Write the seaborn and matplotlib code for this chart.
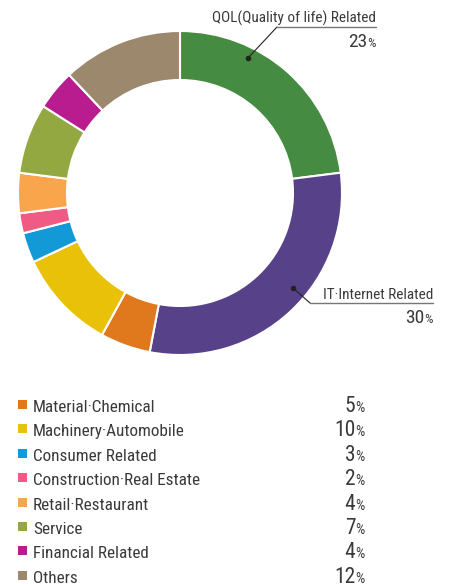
import matplotlib
matplotlib.use('Agg')
import matplotlib.pyplot as plt
import seaborn as sns

# data, clockwise from 12 o'clock
sectors = ['QOL(Quality of life) Related', 'IT·Internet Related', 'Material·Chemical',
           'Machinery·Automobile', 'Consumer Related', 'Construction·Real Estate',
           'Retail·Restaurant', 'Service', 'Financial Related', 'Others']
shares = [23, 30, 5, 10, 3, 2, 4, 7, 4, 12]
colors = ['#458B41', '#574188', '#E0781E', '#E9C108', '#1399D6', '#EF5B84',
          '#F9A54B', '#93A840', '#B91C8E', '#9C886C']

W, H = 449, 584
sns.set_theme(style='white')
plt.rcParams['font.family'] = ['Roboto Condensed', 'Open Sans Condensed', 'DejaVu Sans']
TXT = '#3a3a3a'

fig = plt.figure(figsize=(W / 100, H / 100), dpi=100)
renderer = fig.canvas.get_renderer()


def px(x, y):
    # pixel coords (top-left origin) -> figure fraction
    return x / W, 1 - y / H


def pct(x, y, val, size, va='center'):
    # number followed by a smaller % sign, right edge at x
    t = fig.text(*px(x, y), '%', ha='right', va=va, fontsize=size * 0.68, color=TXT)
    w = t.get_window_extent(renderer).width
    fig.text(*px(x - w - 0.5, y), str(val), ha='right', va=va, fontsize=size, color=TXT)


# donut: centre (180, 193), outer radius 162 px
cx, cy, r = 180, 193, 162
ax = fig.add_axes([(cx - r) / W, 1 - (cy + r) / H, 2 * r / W, 2 * r / H])
ax.pie(shares, colors=colors, startangle=90, counterclock=False, radius=1,
       wedgeprops=dict(width=1 - 113 / 162, edgecolor='white', linewidth=1.5))
ax.set_xlim(-1, 1)
ax.set_ylim(-1, 1)
ax.set_aspect('equal')
ax.axis('off')


def callout(name, val, dot, elbow, end):
    fig.lines.append(plt.Line2D([px(*dot)[0], px(*elbow)[0]], [px(*dot)[1], px(*elbow)[1]],
                                transform=fig.transFigure, color='#222222', lw=0.8))
    fig.lines.append(plt.Line2D([px(*elbow)[0], px(*end)[0]], [px(*elbow)[1], px(*end)[1]],
                                transform=fig.transFigure, color='#777777', lw=1.0))
    fig.lines.append(plt.Line2D([px(*dot)[0]], [px(*dot)[1]], transform=fig.transFigure,
                                marker='o', ms=3, color='#222222', lw=0))
    fig.text(*px(end[0], end[1] - 4), name, ha='right', va='baseline', fontsize=11, color=TXT)
    pct(end[0], end[1] + 20, val, 14, va='baseline')


callout(sectors[0], shares[0], (248, 58), (277, 27), (376, 27))
callout(sectors[1], shares[1], (293, 288), (310, 303), (433, 303))

# legend list below the donut
y0, dy = 405, 24.4
for i, (name, val, c) in enumerate(zip(sectors[2:], shares[2:], colors[2:])):
    y = y0 + i * dy
    fig.patches.append(plt.Rectangle(px(18, y + 4), 9 / W, 9 / H, transform=fig.transFigure,
                                     color=c, lw=0))
    fig.text(*px(33, y + 7), name, ha='left', va='baseline', fontsize=12.3, color=TXT)
    pct(365, y + 7, val, 15.5, va='baseline')

fig.savefig('out.png', dpi=100)
